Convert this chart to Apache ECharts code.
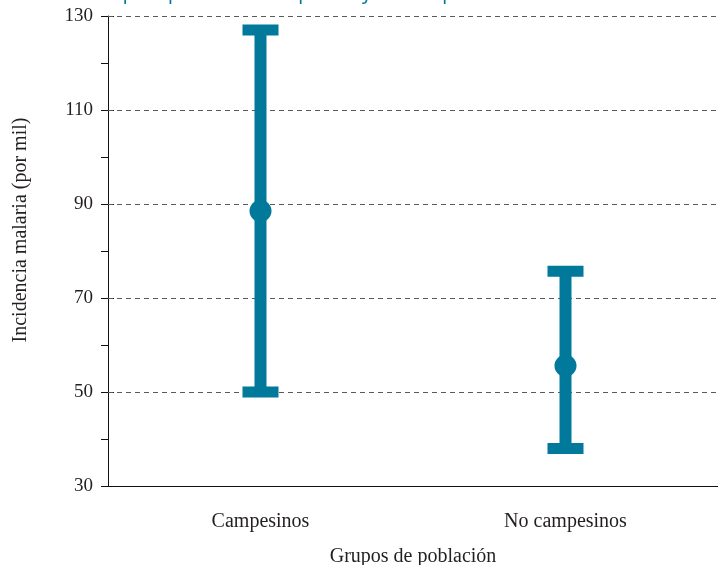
<!DOCTYPE html>
<html>
<head>
<meta charset="utf-8">
<script src="https://cdn.jsdelivr.net/npm/echarts@6/dist/echarts.min.js"></script>
<style>html,body{margin:0;padding:0;background:#fff}#c{width:718px;height:565px}</style>
</head>
<body>
<div id="c"></div>
<script>
const categories = ['Campesinos', 'No campesinos'];
const estimate = [88.5, 55.6];
const lower = [50, 38];
const upper = [127, 75.7];
const yTickLabels = [30, 50, 70, 90, 110, 130];
const gridValues = [50, 70, 90, 110, 130];

const teal = '#00799b';
const serif = '"Liberation Serif", "DejaVu Serif", serif';
const yMin = 30, yMax = 130;
const chart = echarts.init(document.getElementById('c'));
chart.setOption({
  animation: false,
  title: {
    text: 'Incidencia de malaria para población campesina y no campesina',
    left: -78, top: -21,
    textStyle: { color: teal, fontFamily: 'Noto Sans', fontSize: 19, fontWeight: 'normal' }
  },
  grid: { left: 108, right: 0, top: 16, bottom: 79, outerBoundsMode: 'none', containLabel: false },
  xAxis: [{
    type: 'category', data: categories, boundaryGap: true,
    axisLine: { lineStyle: { color: '#111', width: 1 } },
    axisTick: { length: 7, lineStyle: { color: '#111' } },
    axisLabel: { margin: 26, fontFamily: serif, fontSize: 20, color: '#231f20' },
    name: 'Grupos de población', nameLocation: 'middle', nameGap: 61,
    nameTextStyle: { fontFamily: serif, fontSize: 20, color: '#231f20' }
  }, {
    type: 'category', data: categories, boundaryGap: true, position: 'bottom',
    axisLine: { show: false },
    axisTick: { inside: true, length: 6, lineStyle: { color: '#111' } },
    axisLabel: { show: false }
  }],
  yAxis: [{
    type: 'value', min: yMin, max: yMax, interval: 10,
    axisLine: { show: true, lineStyle: { color: '#111', width: 1 } },
    axisTick: { show: true, length: 7, lineStyle: { color: '#111' } },
    splitLine: { show: false },
    axisLabel: {
      margin: 15, fontFamily: serif, fontSize: 19, color: '#231f20',
      formatter: v => yTickLabels.indexOf(v) >= 0 ? String(v) : ''
    },
    name: 'Incidencia malaria (por mil)', nameLocation: 'middle', nameGap: 77,
    nameTextStyle: { fontFamily: serif, fontSize: 20, color: '#231f20', padding: [0, 0, 0, 42] }
  }, {
    // decorative: inner half of the major ticks (same span, offset from yMin)
    type: 'value', min: 0, max: yMax - yMin, interval: 20, position: 'left', offset: 0,
    axisLine: { show: false },
    axisTick: { show: true, inside: true, length: 6, lineStyle: { color: '#111' } },
    axisLabel: { show: false },
    splitLine: { show: false }
  }],
  series: [{
    type: 'custom',
    data: categories.map((c, i) => [i, lower[i], upper[i]]),
    renderItem: function (params, api) {
      const lo = api.coord([api.value(0), api.value(1)]);
      const hi = api.coord([api.value(0), api.value(2)]);
      const st = { fill: teal };
      return {
        type: 'group',
        children: [
          { type: 'rect', shape: { x: lo[0] - 6, y: hi[1], width: 12, height: lo[1] - hi[1] }, style: st },
          { type: 'rect', shape: { x: hi[0] - 18, y: hi[1] - 5.5, width: 36, height: 11 }, style: st },
          { type: 'rect', shape: { x: lo[0] - 18, y: lo[1] - 5.5, width: 36, height: 11 }, style: st }
        ]
      };
    },
    z: 3
  }, {
    type: 'scatter',
    data: categories.map((c, i) => [i, estimate[i]]),
    symbol: 'circle', symbolSize: 22,
    itemStyle: { color: teal, opacity: 1 },
    z: 4,
    markLine: {
      silent: true, symbol: 'none',
      label: { show: false },
      lineStyle: { color: '#5a5a5a', type: [5, 4], width: 1 },
      data: gridValues.map(v => ({ yAxis: v })),
      z: 1
    }
  }]
});
</script>
</body>
</html>
